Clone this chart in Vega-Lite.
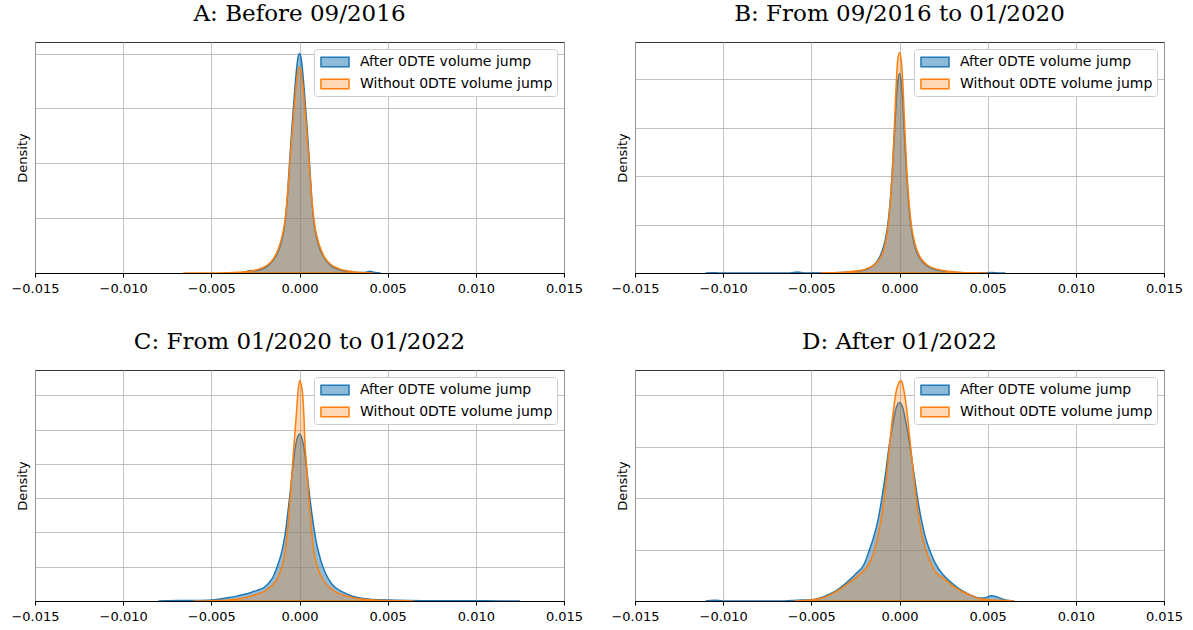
{
  "$schema": "https://vega.github.io/schema/vega-lite/v6.json",
  "background": "white",
  "padding": {"left": 10, "top": 2, "right": 5, "bottom": 5},
  "bounds": "flush",
  "columns": 2,
  "spacing": {"row": 97, "column": 71},
  "datasets": {
    "A": [
      {"s":"After","x":-0.0038,"y":0},{"s":"After","x":-0.0033,"y":1},{"s":"After","x":-0.0031,"y":3},{"s":"After","x":-0.0028,"y":9},{"s":"After","x":-0.0025,"y":8},{"s":"After","x":-0.0022,"y":12},{"s":"After","x":-0.002,"y":18},{"s":"After","x":-0.0018,"y":26},{"s":"After","x":-0.0016,"y":38},{"s":"After","x":-0.0014,"y":55},{"s":"After","x":-0.0012,"y":80},{"s":"After","x":-0.001,"y":120},{"s":"After","x":-0.0009,"y":150},{"s":"After","x":-0.0008,"y":195},{"s":"After","x":-0.0007,"y":265},{"s":"After","x":-0.0006,"y":365},{"s":"After","x":-0.0005,"y":465},{"s":"After","x":-0.0004,"y":555},{"s":"After","x":-0.0003,"y":640},{"s":"After","x":-0.0002,"y":720},{"s":"After","x":-0.0001,"y":780},{"s":"After","x":0,"y":800},{"s":"After","x":0.0001,"y":780},{"s":"After","x":0.0002,"y":720},{"s":"After","x":0.0003,"y":640},{"s":"After","x":0.0004,"y":555},{"s":"After","x":0.0005,"y":465},{"s":"After","x":0.0006,"y":365},{"s":"After","x":0.0007,"y":265},{"s":"After","x":0.0008,"y":195},{"s":"After","x":0.0009,"y":150},{"s":"After","x":0.001,"y":120},{"s":"After","x":0.0012,"y":80},{"s":"After","x":0.0014,"y":55},{"s":"After","x":0.0016,"y":38},{"s":"After","x":0.0018,"y":26},{"s":"After","x":0.002,"y":18},{"s":"After","x":0.0023,"y":11},{"s":"After","x":0.0026,"y":6},{"s":"After","x":0.003,"y":3},{"s":"After","x":0.0035,"y":1.5},{"s":"After","x":0.0038,"y":3},{"s":"After","x":0.004,"y":6},{"s":"After","x":0.0042,"y":3},{"s":"After","x":0.0046,"y":0},
      {"s":"Without","x":-0.0066,"y":0},{"s":"Without","x":-0.005,"y":0.3},{"s":"Without","x":-0.004,"y":1},{"s":"Without","x":-0.0035,"y":2.5},{"s":"Without","x":-0.003,"y":5},{"s":"Without","x":-0.0026,"y":9},{"s":"Without","x":-0.0023,"y":14},{"s":"Without","x":-0.002,"y":22},{"s":"Without","x":-0.0018,"y":30},{"s":"Without","x":-0.0016,"y":42},{"s":"Without","x":-0.0014,"y":60},{"s":"Without","x":-0.0012,"y":88},{"s":"Without","x":-0.001,"y":130},{"s":"Without","x":-0.0009,"y":160},{"s":"Without","x":-0.0008,"y":205},{"s":"Without","x":-0.0007,"y":270},{"s":"Without","x":-0.0006,"y":355},{"s":"Without","x":-0.0005,"y":440},{"s":"Without","x":-0.0004,"y":525},{"s":"Without","x":-0.0003,"y":605},{"s":"Without","x":-0.0002,"y":675},{"s":"Without","x":-0.0001,"y":730},{"s":"Without","x":0,"y":750},{"s":"Without","x":0.0001,"y":730},{"s":"Without","x":0.0002,"y":675},{"s":"Without","x":0.0003,"y":605},{"s":"Without","x":0.0004,"y":525},{"s":"Without","x":0.0005,"y":440},{"s":"Without","x":0.0006,"y":355},{"s":"Without","x":0.0007,"y":270},{"s":"Without","x":0.0008,"y":205},{"s":"Without","x":0.0009,"y":160},{"s":"Without","x":0.001,"y":130},{"s":"Without","x":0.0012,"y":88},{"s":"Without","x":0.0014,"y":60},{"s":"Without","x":0.0016,"y":42},{"s":"Without","x":0.0018,"y":30},{"s":"Without","x":0.002,"y":22},{"s":"Without","x":0.0023,"y":14},{"s":"Without","x":0.0026,"y":9},{"s":"Without","x":0.003,"y":5},{"s":"Without","x":0.0035,"y":2},{"s":"Without","x":0.004,"y":0.5},{"s":"Without","x":0.0042,"y":0}
    ],
    "B": [
      {"s":"After","x":-0.011,"y":0},{"s":"After","x":-0.0106,"y":1.5},{"s":"After","x":-0.0102,"y":0},{"s":"After","x":-0.0062,"y":0},{"s":"After","x":-0.0058,"y":4},{"s":"After","x":-0.0054,"y":0.5},{"s":"After","x":-0.004,"y":1},{"s":"After","x":-0.003,"y":3},{"s":"After","x":-0.0025,"y":6},{"s":"After","x":-0.002,"y":12},{"s":"After","x":-0.0016,"y":25},{"s":"After","x":-0.0013,"y":45},{"s":"After","x":-0.0011,"y":70},{"s":"After","x":-0.0009,"y":110},{"s":"After","x":-0.0008,"y":140},{"s":"After","x":-0.0007,"y":180},{"s":"After","x":-0.0006,"y":240},{"s":"After","x":-0.0005,"y":320},{"s":"After","x":-0.0004,"y":430},{"s":"After","x":-0.0003,"y":560},{"s":"After","x":-0.0002,"y":690},{"s":"After","x":-0.0001,"y":790},{"s":"After","x":0,"y":825},{"s":"After","x":0.0001,"y":790},{"s":"After","x":0.0002,"y":680},{"s":"After","x":0.0003,"y":540},{"s":"After","x":0.0004,"y":410},{"s":"After","x":0.0005,"y":305},{"s":"After","x":0.0006,"y":225},{"s":"After","x":0.0007,"y":170},{"s":"After","x":0.0008,"y":130},{"s":"After","x":0.0009,"y":102},{"s":"After","x":0.001,"y":82},{"s":"After","x":0.0012,"y":55},{"s":"After","x":0.0014,"y":38},{"s":"After","x":0.0016,"y":27},{"s":"After","x":0.002,"y":14},{"s":"After","x":0.0025,"y":7},{"s":"After","x":0.003,"y":3.5},{"s":"After","x":0.004,"y":1.2},{"s":"After","x":0.0048,"y":0.8},{"s":"After","x":0.0052,"y":2},{"s":"After","x":0.0056,"y":0.5},{"s":"After","x":0.006,"y":0},
      {"s":"Without","x":-0.0045,"y":0},{"s":"Without","x":-0.004,"y":0.8},{"s":"Without","x":-0.0035,"y":2},{"s":"Without","x":-0.003,"y":4},{"s":"Without","x":-0.0025,"y":8},{"s":"Without","x":-0.002,"y":14},{"s":"Without","x":-0.0016,"y":26},{"s":"Without","x":-0.0013,"y":42},{"s":"Without","x":-0.0011,"y":62},{"s":"Without","x":-0.0009,"y":95},{"s":"Without","x":-0.0008,"y":125},{"s":"Without","x":-0.0007,"y":165},{"s":"Without","x":-0.0006,"y":225},{"s":"Without","x":-0.0005,"y":310},{"s":"Without","x":-0.0004,"y":430},{"s":"Without","x":-0.0003,"y":590},{"s":"Without","x":-0.0002,"y":760},{"s":"Without","x":-0.0001,"y":880},{"s":"Without","x":0,"y":912},{"s":"Without","x":0.0001,"y":880},{"s":"Without","x":0.0002,"y":770},{"s":"Without","x":0.0003,"y":600},{"s":"Without","x":0.0004,"y":445},{"s":"Without","x":0.0005,"y":330},{"s":"Without","x":0.0006,"y":245},{"s":"Without","x":0.0007,"y":185},{"s":"Without","x":0.0008,"y":145},{"s":"Without","x":0.0009,"y":115},{"s":"Without","x":0.001,"y":92},{"s":"Without","x":0.0012,"y":62},{"s":"Without","x":0.0014,"y":44},{"s":"Without","x":0.0016,"y":32},{"s":"Without","x":0.002,"y":18},{"s":"Without","x":0.0025,"y":10},{"s":"Without","x":0.003,"y":5},{"s":"Without","x":0.0035,"y":2.5},{"s":"Without","x":0.004,"y":1.2},{"s":"Without","x":0.0045,"y":0.5},{"s":"Without","x":0.005,"y":0}
    ],
    "C": [
      {"s":"After","x":-0.008,"y":0},{"s":"After","x":-0.0075,"y":0.8},{"s":"After","x":-0.006,"y":1.5},{"s":"After","x":-0.005,"y":3},{"s":"After","x":-0.0045,"y":6},{"s":"After","x":-0.004,"y":10},{"s":"After","x":-0.0035,"y":15},{"s":"After","x":-0.003,"y":21},{"s":"After","x":-0.0027,"y":26},{"s":"After","x":-0.0024,"y":31},{"s":"After","x":-0.002,"y":40},{"s":"After","x":-0.0017,"y":55},{"s":"After","x":-0.0015,"y":70},{"s":"After","x":-0.0012,"y":110},{"s":"After","x":-0.001,"y":145},{"s":"After","x":-0.0008,"y":200},{"s":"After","x":-0.0007,"y":240},{"s":"After","x":-0.0006,"y":285},{"s":"After","x":-0.0005,"y":330},{"s":"After","x":-0.0004,"y":380},{"s":"After","x":-0.0003,"y":425},{"s":"After","x":-0.0002,"y":460},{"s":"After","x":-0.0001,"y":480},{"s":"After","x":0,"y":487},{"s":"After","x":0.0001,"y":480},{"s":"After","x":0.0002,"y":462},{"s":"After","x":0.0003,"y":430},{"s":"After","x":0.0004,"y":388},{"s":"After","x":0.0005,"y":340},{"s":"After","x":0.0006,"y":295},{"s":"After","x":0.0007,"y":255},{"s":"After","x":0.0008,"y":218},{"s":"After","x":0.001,"y":160},{"s":"After","x":0.0012,"y":120},{"s":"After","x":0.0015,"y":78},{"s":"After","x":0.0018,"y":52},{"s":"After","x":0.002,"y":41},{"s":"After","x":0.0025,"y":25},{"s":"After","x":0.003,"y":14},{"s":"After","x":0.0035,"y":8},{"s":"After","x":0.004,"y":5},{"s":"After","x":0.005,"y":3},{"s":"After","x":0.0055,"y":2},{"s":"After","x":0.007,"y":1},{"s":"After","x":0.009,"y":0.7},{"s":"After","x":0.0105,"y":0.5},{"s":"After","x":0.0125,"y":0},
      {"s":"Without","x":-0.006,"y":0},{"s":"Without","x":-0.005,"y":1},{"s":"Without","x":-0.004,"y":3},{"s":"Without","x":-0.0035,"y":6},{"s":"Without","x":-0.003,"y":11},{"s":"Without","x":-0.0025,"y":18},{"s":"Without","x":-0.002,"y":28},{"s":"Without","x":-0.0018,"y":35},{"s":"Without","x":-0.0015,"y":48},{"s":"Without","x":-0.0012,"y":72},{"s":"Without","x":-0.001,"y":100},{"s":"Without","x":-0.0009,"y":120},{"s":"Without","x":-0.0008,"y":150},{"s":"Without","x":-0.0007,"y":195},{"s":"Without","x":-0.0006,"y":255},{"s":"Without","x":-0.0005,"y":320},{"s":"Without","x":-0.0004,"y":395},{"s":"Without","x":-0.0003,"y":465},{"s":"Without","x":-0.0002,"y":530},{"s":"Without","x":-0.0001,"y":600},{"s":"Without","x":0,"y":643},{"s":"Without","x":0.0001,"y":630},{"s":"Without","x":0.00017,"y":609},{"s":"Without","x":0.00025,"y":540},{"s":"Without","x":0.0003,"y":470},{"s":"Without","x":0.0004,"y":395},{"s":"Without","x":0.0005,"y":320},{"s":"Without","x":0.0006,"y":255},{"s":"Without","x":0.0007,"y":195},{"s":"Without","x":0.0008,"y":150},{"s":"Without","x":0.0009,"y":122},{"s":"Without","x":0.001,"y":102},{"s":"Without","x":0.0012,"y":75},{"s":"Without","x":0.0015,"y":50},{"s":"Without","x":0.0018,"y":36},{"s":"Without","x":0.002,"y":28},{"s":"Without","x":0.0025,"y":17},{"s":"Without","x":0.003,"y":10},{"s":"Without","x":0.0035,"y":6},{"s":"Without","x":0.004,"y":3.5},{"s":"Without","x":0.005,"y":1.5},{"s":"Without","x":0.006,"y":0.5},{"s":"Without","x":0.0065,"y":0}
    ],
    "D": [
      {"s":"After","x":-0.011,"y":0},{"s":"After","x":-0.0105,"y":1.5},{"s":"After","x":-0.01,"y":0},{"s":"After","x":-0.0065,"y":0},{"s":"After","x":-0.0058,"y":1.5},{"s":"After","x":-0.005,"y":2.5},{"s":"After","x":-0.0045,"y":6},{"s":"After","x":-0.004,"y":13},{"s":"After","x":-0.0035,"y":22},{"s":"After","x":-0.003,"y":36},{"s":"After","x":-0.0025,"y":52},{"s":"After","x":-0.002,"y":72},{"s":"After","x":-0.0017,"y":100},{"s":"After","x":-0.0015,"y":120},{"s":"After","x":-0.0012,"y":160},{"s":"After","x":-0.001,"y":200},{"s":"After","x":-0.0008,"y":245},{"s":"After","x":-0.0006,"y":298},{"s":"After","x":-0.0004,"y":340},{"s":"After","x":-0.0002,"y":374},{"s":"After","x":0,"y":386},{"s":"After","x":0.0002,"y":374},{"s":"After","x":0.0004,"y":340},{"s":"After","x":0.0006,"y":300},{"s":"After","x":0.0008,"y":252},{"s":"After","x":0.001,"y":205},{"s":"After","x":0.0012,"y":165},{"s":"After","x":0.0015,"y":120},{"s":"After","x":0.0017,"y":100},{"s":"After","x":0.002,"y":75},{"s":"After","x":0.0025,"y":50},{"s":"After","x":0.003,"y":34},{"s":"After","x":0.0035,"y":21},{"s":"After","x":0.004,"y":12},{"s":"After","x":0.0045,"y":6},{"s":"After","x":0.0048,"y":6},{"s":"After","x":0.0052,"y":10},{"s":"After","x":0.0056,"y":7},{"s":"After","x":0.006,"y":2},{"s":"After","x":0.0065,"y":0},
      {"s":"Without","x":-0.006,"y":0},{"s":"Without","x":-0.005,"y":2},{"s":"Without","x":-0.0045,"y":5},{"s":"Without","x":-0.004,"y":11},{"s":"Without","x":-0.0035,"y":20},{"s":"Without","x":-0.003,"y":32},{"s":"Without","x":-0.0025,"y":45},{"s":"Without","x":-0.002,"y":60},{"s":"Without","x":-0.0018,"y":68},{"s":"Without","x":-0.0015,"y":90},{"s":"Without","x":-0.0012,"y":130},{"s":"Without","x":-0.001,"y":168},{"s":"Without","x":-0.0008,"y":220},{"s":"Without","x":-0.0006,"y":290},{"s":"Without","x":-0.0004,"y":355},{"s":"Without","x":-0.0002,"y":405},{"s":"Without","x":0,"y":426},{"s":"Without","x":0.0001,"y":428},{"s":"Without","x":0.0002,"y":418},{"s":"Without","x":0.0004,"y":375},{"s":"Without","x":0.0006,"y":310},{"s":"Without","x":0.0008,"y":245},{"s":"Without","x":0.001,"y":185},{"s":"Without","x":0.0012,"y":140},{"s":"Without","x":0.0015,"y":98},{"s":"Without","x":0.0018,"y":72},{"s":"Without","x":0.002,"y":58},{"s":"Without","x":0.0025,"y":44},{"s":"Without","x":0.003,"y":30},{"s":"Without","x":0.0035,"y":19},{"s":"Without","x":0.004,"y":12},{"s":"Without","x":0.0045,"y":5},{"s":"Without","x":0.005,"y":2.5},{"s":"Without","x":0.006,"y":0.8},{"s":"Without","x":0.0065,"y":0}
    ]
  },
  "resolve": {
    "scale": {"x": "independent", "y": "independent", "fill": "independent", "stroke": "independent"},
    "axis": {"x": "independent", "y": "independent"},
    "legend": {"fill": "independent", "stroke": "independent"}
  },
  "concat": [
    {
      "title": {"text": "A: Before 09/2016"},
      "width": 529, "height": 231,
      "data": {"name": "A"},
      "mark": {"type": "area", "strokeWidth": 1.5, "interpolate": "monotone", "clip": true},
      "encoding": {
        "x": {"field": "x", "type": "quantitative", "title": null, "scale": {"domain": [-0.015, 0.015], "nice": false, "zero": false}, "axis": {"values": [-0.015, -0.01, -0.005, 0, 0.005, 0.01, 0.015], "format": ".3f"}},
        "y": {"field": "y", "type": "quantitative", "stack": null, "title": "Density", "scale": {"domain": [0, 842], "nice": false}, "axis": {"values": [0, 200, 400, 600, 800]}},
        "fill": {"field": "s", "type": "nominal", "scale": {"domain": ["After", "Without"], "range": ["rgba(31,119,180,0.5)", "rgba(255,127,14,0.3)"]}, "legend": {"title": null, "labelExpr": "datum.label + ' 0DTE volume jump'"}},
        "stroke": {"field": "s", "type": "nominal", "scale": {"domain": ["After", "Without"], "range": ["#1f77b4", "#ff7f0e"]}, "legend": {"title": null, "labelExpr": "datum.label + ' 0DTE volume jump'"}}
      }
    },
    {
      "title": {"text": "B: From 09/2016 to 01/2020"},
      "width": 529, "height": 231,
      "data": {"name": "B"},
      "mark": {"type": "area", "strokeWidth": 1.5, "interpolate": "monotone", "clip": true},
      "encoding": {
        "x": {"field": "x", "type": "quantitative", "title": null, "scale": {"domain": [-0.015, 0.015], "nice": false, "zero": false}, "axis": {"values": [-0.015, -0.01, -0.005, 0, 0.005, 0.01, 0.015], "format": ".3f"}},
        "y": {"field": "y", "type": "quantitative", "stack": null, "title": "Density", "scale": {"domain": [0, 955], "nice": false}, "axis": {"values": [0, 200, 400, 600, 800]}},
        "fill": {"field": "s", "type": "nominal", "scale": {"domain": ["After", "Without"], "range": ["rgba(31,119,180,0.5)", "rgba(255,127,14,0.3)"]}, "legend": {"title": null, "labelExpr": "datum.label + ' 0DTE volume jump'"}},
        "stroke": {"field": "s", "type": "nominal", "scale": {"domain": ["After", "Without"], "range": ["#1f77b4", "#ff7f0e"]}, "legend": {"title": null, "labelExpr": "datum.label + ' 0DTE volume jump'"}}
      }
    },
    {
      "title": {"text": "C: From 01/2020 to 01/2022"},
      "width": 529, "height": 231,
      "data": {"name": "C"},
      "mark": {"type": "area", "strokeWidth": 1.5, "interpolate": "monotone", "clip": true},
      "encoding": {
        "x": {"field": "x", "type": "quantitative", "title": null, "scale": {"domain": [-0.015, 0.015], "nice": false, "zero": false}, "axis": {"values": [-0.015, -0.01, -0.005, 0, 0.005, 0.01, 0.015], "format": ".3f"}},
        "y": {"field": "y", "type": "quantitative", "stack": null, "title": "Density", "scale": {"domain": [0, 674], "nice": false}, "axis": {"values": [0, 100, 200, 300, 400, 500, 600]}},
        "fill": {"field": "s", "type": "nominal", "scale": {"domain": ["After", "Without"], "range": ["rgba(31,119,180,0.5)", "rgba(255,127,14,0.3)"]}, "legend": {"title": null, "labelExpr": "datum.label + ' 0DTE volume jump'"}},
        "stroke": {"field": "s", "type": "nominal", "scale": {"domain": ["After", "Without"], "range": ["#1f77b4", "#ff7f0e"]}, "legend": {"title": null, "labelExpr": "datum.label + ' 0DTE volume jump'"}}
      }
    },
    {
      "title": {"text": "D: After 01/2022"},
      "width": 529, "height": 231,
      "data": {"name": "D"},
      "mark": {"type": "area", "strokeWidth": 1.5, "interpolate": "monotone", "clip": true},
      "encoding": {
        "x": {"field": "x", "type": "quantitative", "title": null, "scale": {"domain": [-0.015, 0.015], "nice": false, "zero": false}, "axis": {"values": [-0.015, -0.01, -0.005, 0, 0.005, 0.01, 0.015], "format": ".3f"}},
        "y": {"field": "y", "type": "quantitative", "stack": null, "title": "Density", "scale": {"domain": [0, 449], "nice": false}, "axis": {"values": [0, 100, 200, 300, 400]}},
        "fill": {"field": "s", "type": "nominal", "scale": {"domain": ["After", "Without"], "range": ["rgba(31,119,180,0.5)", "rgba(255,127,14,0.3)"]}, "legend": {"title": null, "labelExpr": "datum.label + ' 0DTE volume jump'"}},
        "stroke": {"field": "s", "type": "nominal", "scale": {"domain": ["After", "Without"], "range": ["#1f77b4", "#ff7f0e"]}, "legend": {"title": null, "labelExpr": "datum.label + ' 0DTE volume jump'"}}
      }
    }
  ],
  "config": {
    "view": {"stroke": "#333333", "strokeWidth": 1},
    "title": {"font": "DejaVu Serif", "fontSize": 23, "fontWeight": "normal", "color": "black", "baseline": "alphabetic", "offset": 16, "frame": "group", "anchor": "middle"},
    "axis": {"zindex": 1, "gridColor": "#b0b0b0", "gridWidth": 0.8, "gridOpacity": 1, "domainColor": "black", "domainWidth": 1, "tickColor": "black", "labelFont": "DejaVu Sans", "labelFontSize": 13, "labelColor": "black", "titleFont": "DejaVu Sans", "titleFontSize": 13, "titleFontWeight": "normal", "titleColor": "black", "labelOverlap": false, "labelFlush": false},
    "axisX": {"grid": true, "tickSize": 4, "labelPadding": 5, "domain": true},
    "axisY": {"grid": true, "labels": false, "ticks": false, "domain": false, "titlePadding": 6, "minExtent": 0, "maxExtent": 40},
    "legend": {"orient": "top-right", "offset": 7, "fillColor": "white", "strokeColor": "#cccccc", "cornerRadius": 3, "padding": 4, "symbolType": "M-0.75,-0.6H2.75V0.6H-0.75Z", "symbolSize": 256, "symbolStrokeWidth": 1.5, "labelFont": "DejaVu Sans", "labelFontSize": 14, "labelColor": "black", "labelLimit": 400, "rowPadding": 5, "labelOffset": 24, "titlePadding": 0}
  }
}
